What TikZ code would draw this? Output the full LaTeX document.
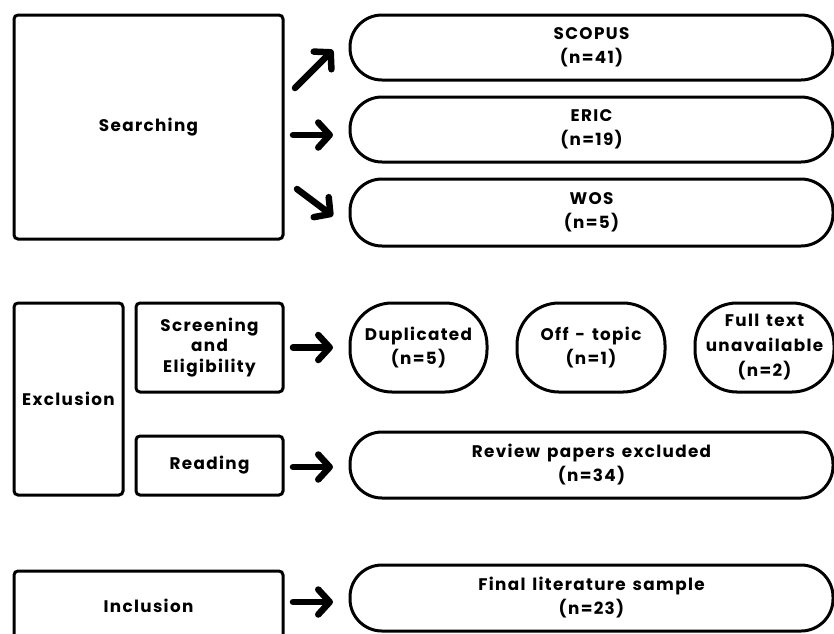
\documentclass[tikz,border=0pt]{standalone}
\usepackage{fontspec}
\setmainfont{Poppins}[LetterSpace=8,WordSpace=1.4]
\usetikzlibrary{arrows.meta}
\begin{document}
\begin{tikzpicture}[x=1pt,y=1pt,
  every node/.style={font=\bfseries\fontsize{16.8}{24}\selectfont, align=center, inner sep=0pt, outer sep=0pt},
  box/.style={draw, line width=3pt, rounded corners=4pt},
  pill/.style={draw, line width=3pt, rounded corners=32pt, minimum width=483pt},
  bub/.style={draw, line width=3pt, rounded corners=42pt, minimum height=89pt},
  arr/.style={line width=6.5pt, line cap=round, line join=round, -{Straight Barb[length=11.5pt,width=25pt,round]}}]
\path[use as bounding box] (0,0) rectangle (834,-633);
\clip (0,0) rectangle (834,-633);
% Searching
\node[box, minimum width=269pt, minimum height=224pt] (search) at (148.5,-127) {Searching};
\node[pill, minimum height=65pt] (scopus) at (591.5,-47.5) {SCOPUS\\(n=41)};
\node[pill, minimum height=65pt] (eric) at (591.5,-129.5) {ERIC\\(n=19)};
\node[pill, minimum height=67pt] (wos) at (591.5,-212.5) {WOS\\(n=5)};
% Exclusion
\node[box, minimum width=109pt, minimum height=192pt] (excl) at (68.5,-399) {Exclusion};
\node[box, minimum width=147pt, minimum height=89pt, font=\bfseries\fontsize{16.8}{20.5}\selectfont] (screen) at (209.5,-347.5) {Screening\\and\\Eligibility};
\node[bub, minimum width=137pt] (dup) at (418.5,-347.5) {Duplicated\\(n=5)};
\node[bub, minimum width=148pt] (off) at (591,-347.5) {Off - topic\\(n=1)};
\node[bub, minimum width=139pt, font=\bfseries\fontsize{16.8}{25}\selectfont] (full) at (764.5,-347.5) {Full text\\unavailable\\(n=2)};
\node[box, minimum width=147pt, minimum height=59pt] (reading) at (209.5,-465.5) {Reading};
\node[pill, minimum height=66pt] (review) at (591.5,-465) {Review papers excluded\\(n=34)};
% Inclusion
\node[box, minimum width=269pt, minimum height=69pt] (incl) at (148.5,-605.5) {Inclusion};
\node[pill, minimum height=66pt] (final) at (591.5,-598) {Final literature sample\\(n=23)};
% arrows
\draw[arr] ([shift={(12,39)}]search.east) -- ([shift={(-17,-2.5)}]scopus.west);
\draw[arr] ([shift={(10,-8)}]search.east) -- ([shift={(-17,-5.5)}]eric.west);
\draw[arr] ([shift={(14,-62)}]search.east) -- ([shift={(-17,-3.5)}]wos.west);
\draw[arr] ([shift={(10,0)}]screen.east) -- ([shift={(-17,0)}]dup.west);
\draw[arr] ([shift={(10,-1.5)}]reading.east) -- ([shift={(-17,-2)}]review.west);
\draw[arr] ([shift={(10,3.5)}]incl.east) -- ([shift={(-17,-4)}]final.west);
\end{tikzpicture}
\end{document}
